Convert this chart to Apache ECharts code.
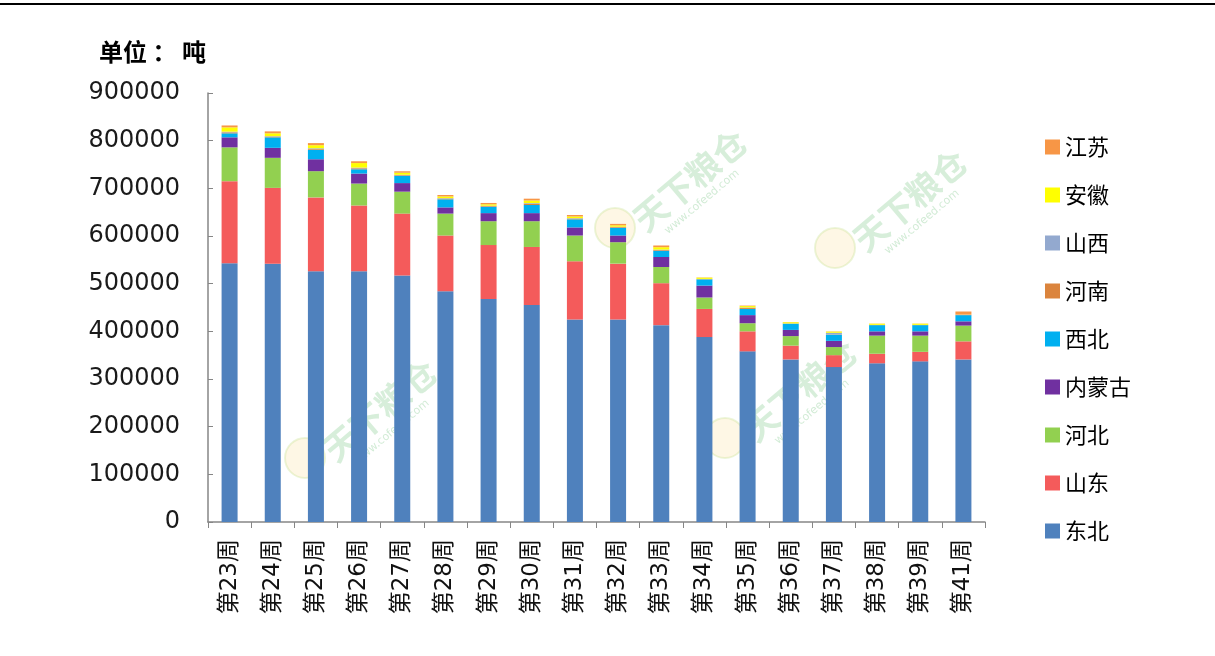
<!DOCTYPE html>
<html>
<head>
<meta charset="utf-8">
<script src="https://cdn.jsdelivr.net/npm/echarts@6/dist/echarts.min.js"></script>
<style>
html,body{margin:0;padding:0;background:#fff;}
#chart{width:1215px;height:656px;}
#topline{position:absolute;left:0;top:3px;width:1215px;height:2px;background:#000;}
</style>
</head>
<body>
<div id="chart"></div>
<div id="topline"></div>
<script>
const categories = ['第23周','第24周','第25周','第26周','第27周','第28周','第29周','第30周','第31周','第32周','第33周','第34周','第35周','第36周','第37周','第38周','第39周','第41周'];
const dongbei   = [543000,542000,526000,526000,517000,484000,468000,455000,425000,425000,413000,388000,358000,341000,325000,333000,337000,341000];
const shandong  = [172000,159000,155000,138000,130000,117000,113000,122000,122000,117000,88000,59000,42000,29000,25000,20000,20000,38000];
const hebei     = [71000,63000,55000,46000,46000,46000,50000,54000,54000,45000,34000,24000,17000,20000,17000,38000,34000,33000];
const neimenggu = [21000,21000,25000,21000,18000,13000,17000,17000,17000,14000,21000,25000,17000,13000,13000,9000,9000,9000];
const xibei     = [8400,22000,20000,9000,15000,17000,13000,17000,17000,16000,13000,13000,13000,13000,13000,13000,13000,13000];
const henan     = [2000,1500,1500,2000,1500,1500,1500,2500,1500,1500,1500,500,2000,300,500,300,300,500];
const shanxi    = [1500,1000,1500,1500,1000,1000,1000,1500,1000,1000,1000,500,1000,300,3500,300,300,300];
const anhui     = [9000,6000,6500,9500,4300,3500,3000,5500,3500,3000,5000,2700,3000,2500,2500,2500,2500,300];
const jiangsu   = [4000,4000,4400,3800,3000,3000,2800,3800,3000,2900,3600,500,1000,300,400,300,300,6500];
const yTicks = [0,100000,200000,300000,400000,500000,600000,700000,800000,900000];

const seriesDefs = [
  ['东北', dongbei, '#4F81BD'],
  ['山东', shandong, '#F45B5B'],
  ['河北', hebei, '#92D050'],
  ['内蒙古', neimenggu, '#7030A0'],
  ['西北', xibei, '#00B0F0'],
  ['河南', henan, '#DB843D'],
  ['山西', shanxi, '#93A9CF'],
  ['安徽', anhui, '#FFFF00'],
  ['江苏', jiangsu, '#F79646']
];

const cjk = '"Noto Sans CJK SC", "DejaVu Sans", sans-serif';
const wmSpots = [[380, 410], [690, 180], [910, 200], [800, 390]];
const graphics = [];
wmSpots.forEach(p => {
  graphics.push({
    type: 'text', x: p[0], y: p[1], rotation: 0.7, z: 0, silent: true,
    style: {text: '天下粮仓', fontSize: 34, fontWeight: 'bold', fontFamily: cjk,
      fill: 'rgba(140,205,150,0.35)', align: 'center', verticalAlign: 'middle'}
  });
  graphics.push({
    type: 'text', x: p[0] + 12, y: p[1] + 22, rotation: 0.7, z: 0, silent: true,
    style: {text: 'www.cofeed.com', fontSize: 11, fontFamily: '"DejaVu Sans", sans-serif',
      fill: 'rgba(140,205,150,0.4)', align: 'center', verticalAlign: 'middle'}
  });
  graphics.push({
    type: 'circle', x: p[0] - 75, y: p[1] + 48, z: 0, silent: true,
    shape: {r: 20},
    style: {fill: 'rgba(250,225,150,0.25)', stroke: 'rgba(200,225,150,0.35)', lineWidth: 2}
  });
});

const chart = echarts.init(document.getElementById('chart'), null, {renderer:'canvas'});
chart.setOption({
  animation: false,
  backgroundColor: '#fff',
  title: {
    text: '单位 ： 吨', left: 94, top: 35,
    textStyle: {fontSize: 24, fontWeight: 'bold', color: '#000', fontFamily: cjk}
  },
  graphic: graphics,
  legend: {
    orient: 'vertical', left: 1040, top: 131,
    itemWidth: 15, itemHeight: 15, itemGap: 26,
    icon: 'rect',
    data: seriesDefs.map(s => s[0]).reverse(),
    textStyle: {fontSize: 22, lineHeight: 22, color: '#000', fontFamily: cjk}
  },
  grid: {left: 208, right: 230, top: 93, bottom: 134, containLabel: false},
  xAxis: {
    type: 'category', data: categories,
    axisLine: {lineStyle: {color: '#868686', width: 1.5}},
    axisTick: {show: true, length: 6, lineStyle: {color: '#868686'}},
    axisLabel: {rotate: 90, margin: 17, fontSize: 23, color: '#111', fontFamily: '"DejaVu Sans", "Noto Sans CJK SC", sans-serif'}
  },
  yAxis: {
    type: 'value', min: 0, max: 900000, interval: 100000,
    axisLine: {show: true, lineStyle: {color: '#868686', width: 1.5}},
    axisTick: {show: true, inside: true, length: 5, lineStyle: {color: '#868686'}},
    splitLine: {show: false},
    axisLabel: {margin: 28, fontSize: 24, color: '#1a1a1a', fontFamily: '"DejaVu Sans", sans-serif',
      formatter: v => yTicks.includes(v) ? String(v) : ''}
  },
  series: seriesDefs.map(s => ({
    name: s[0], type: 'bar', stack: 'total', data: s[1], barWidth: 16, z: 2,
    itemStyle: {color: s[2]}
  }))
});
</script>
</body>
</html>
